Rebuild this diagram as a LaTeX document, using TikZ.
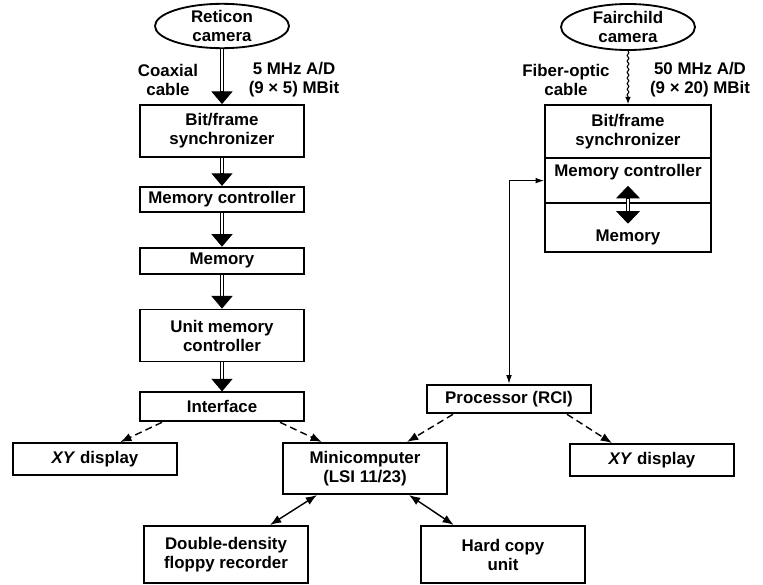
\documentclass[tikz,border=0pt]{standalone}
\usepackage{fontspec}
\setmainfont{Liberation Sans}
\usetikzlibrary{positioning,arrows.meta,shapes.geometric,decorations.pathmorphing}

\tikzset{
  box/.style={draw, line width=1.3pt, minimum width=4.08cm, align=center, inner sep=2pt},
  camera/.style={draw, ellipse, line width=1.3pt, inner sep=0pt, align=center, minimum width=3.35cm},
  cablelabel/.style={align=center},
  dbl/.style={double, double distance=1.8pt, line width=0.8pt, shorten >=8pt},
  dblhead/.style={-{Triangle[width=15pt,length=9pt]}, line width=0.8pt},
  datalink/.style={dash pattern=on 5pt off 3pt, line width=1pt, -{Latex[length=8pt,width=6pt]}},
  iolink/.style={line width=1pt, {Latex[length=8pt,width=6pt]}-{Latex[length=8pt,width=6pt]}},
  ctrllink/.style={line width=0.7pt, {Latex[length=6pt,width=4pt]}-{Latex[length=6pt,width=4pt]}},
  fiberlink/.style={line width=0.8pt, decorate, decoration={snake, amplitude=0.6pt, segment length=4pt, post length=5pt}, -{Latex[length=5pt,width=4pt]}},
}

\begin{document}
\begin{tikzpicture}[x=0.025cm, y=-0.025cm, font=\bfseries\fontsize{12}{13.5}\selectfont]
\useasboundingbox (0,0) rectangle (763,585);

% Reticon chain
\node[camera, minimum height=1.1cm] (reticon) at (222,26) {Reticon\\camera};
\node[cablelabel] (coax) at (168,80) {Coaxial\\cable};
\node[cablelabel] (mhz5) at (294,80) {5 MHz A/D\\(9 × 5) MBit};
\node[box, minimum height=1.3cm] (bitsync) at (222,131) {Bit/frame\\synchronizer};
\node[box, minimum height=0.625cm, below=0.7cm of bitsync] (memctl) {Memory controller};
\node[box, minimum height=0.65cm, below=0.85cm of memctl] (mem) {Memory};
\node[box, minimum height=1.3cm, below=0.85cm of mem] (unitctl) {Unit memory\\controller};
\node[box, minimum height=0.725cm, below=0.725cm of unitctl] (iface) {Interface};

% Fairchild chain
\node[camera, minimum height=1.15cm] (fairchild) at (628,27) {Fairchild\\camera};
\node[cablelabel] (fiber) at (566,80) {Fiber-optic\\cable};
\node[cablelabel] (mhz50) at (700,80) {50 MHz A/D\\(9 × 20) MBit};
\node[box, minimum width=4.15cm, minimum height=1.33cm] (fsync) at (628,131.5) {Bit/frame\\synchronizer};
\node[box, minimum width=4.15cm, text height=11pt, text depth=17pt, below=-1.3pt of fsync] (fmemctl) {Memory controller};
\node[box, minimum width=4.15cm, text height=25pt, text depth=6pt, below=-1.3pt of fmemctl] (fmem) {Memory};
\node[box, minimum height=0.72cm] (proc) at (509,399) {Processor (RCI)};

% lower row
\node[box, minimum height=0.8cm] (xyleft) at (95,459) {\textit{XY} display};
\node[box, minimum height=1.28cm] (mini) at (365,468.5) {Minicomputer\\(LSI 11/23)};
\node[box, minimum height=0.8cm] (xyright) at (652,460) {\textit{XY} display};
\node[box, minimum height=1.43cm] (floppy) at (226,554.5) {Double-density\\floppy recorder};
\node[box, minimum height=1.43cm] (hardcopy) at (503,554.5) {Hard copy\\unit};

% parallel data paths
\draw[dbl] (reticon.south) -- (bitsync.north);
\draw[dblhead] ([yshift=9pt]bitsync.north) -- (bitsync.north);
\draw[dbl] (bitsync.south) -- (memctl.north);
\draw[dblhead] ([yshift=9pt]memctl.north) -- (memctl.north);
\draw[dbl] (memctl.south) -- (mem.north);
\draw[dblhead] ([yshift=9pt]mem.north) -- (mem.north);
\draw[dbl] (mem.south) -- (unitctl.north);
\draw[dblhead] ([yshift=9pt]unitctl.north) -- (unitctl.north);
\draw[dbl] (unitctl.south) -- (iface.north);
\draw[dblhead] ([yshift=9pt]iface.north) -- (iface.north);

% memory controller <-> memory
\coordinate (fup) at ([yshift=13pt]fmemctl.south);
\coordinate (fdown) at ([yshift=-14pt]fmemctl.south);
\draw[dbl, shorten <=8pt] (fup) -- (fdown);
\draw[dblhead, -{Triangle[width=17pt,length=9pt]}] ([yshift=-9pt]fup) -- (fup);
\draw[dblhead, -{Triangle[width=17pt,length=9pt]}] ([yshift=9pt]fdown) -- (fdown);

\draw[fiberlink] (fairchild.south) -- (fsync.north);
\draw[ctrllink] (proc.north) |- (fmemctl.west);

% displays and computer
\draw[datalink] ([xshift=-1.5cm]iface.south) -- ([xshift=0.63cm]xyleft.north);
\draw[datalink] ([xshift=1.45cm]iface.south) -- ([xshift=-1.08cm]mini.north);
\draw[datalink] ([xshift=-1.4cm]proc.south) -- ([xshift=1.05cm]mini.north);
\draw[datalink] ([xshift=1.45cm]proc.south) -- ([xshift=-1cm]xyright.north);
\draw[iolink] ([xshift=-1.2cm]mini.south) -- ([xshift=1.1cm]floppy.north);
\draw[iolink] ([xshift=1.1cm]mini.south) -- ([xshift=-1.23cm]hardcopy.north);

\end{tikzpicture}
\end{document}
